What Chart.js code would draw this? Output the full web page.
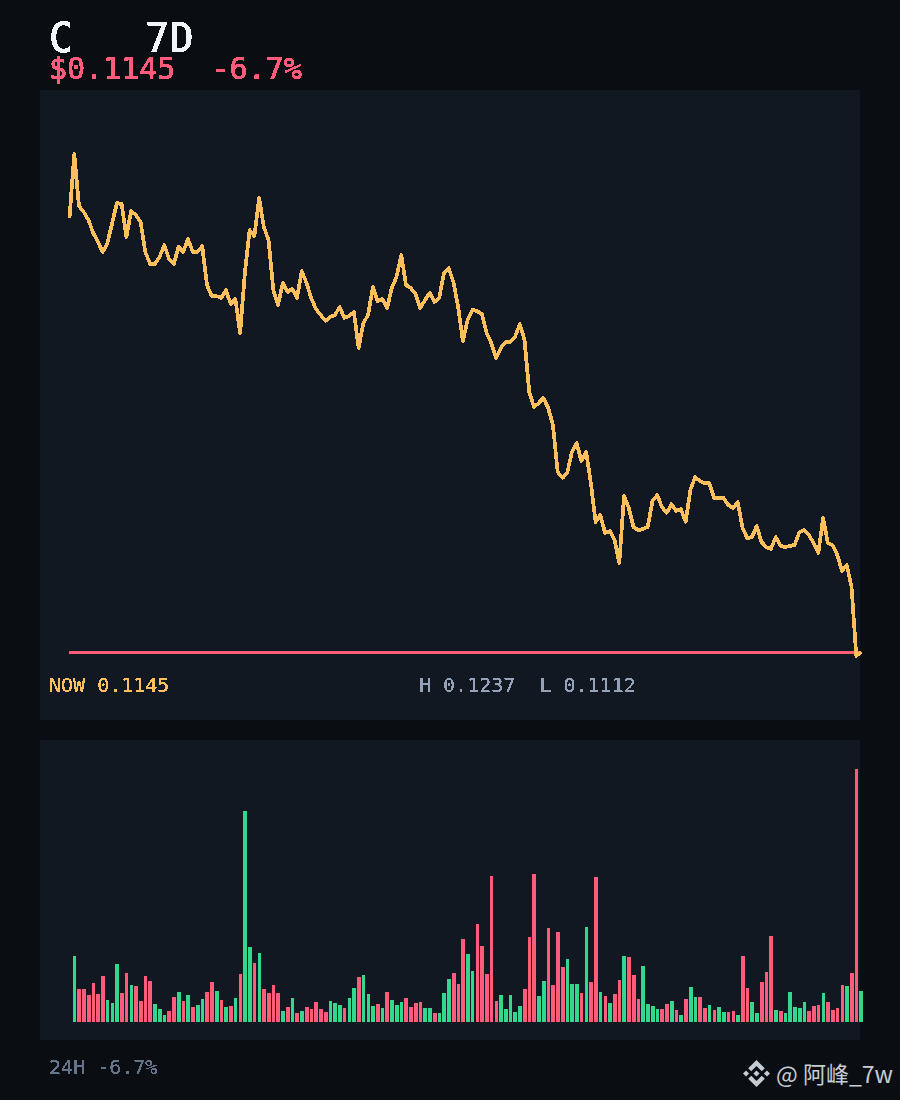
<!DOCTYPE html>
<html>
<head>
<meta charset="utf-8">
<script src="https://cdn.jsdelivr.net/npm/chart.js@4"></script>
<style>
  html, body { margin: 0; padding: 0; background: #0a0d12; }
  #page { position: relative; width: 900px; height: 1100px; overflow: hidden; background: #0a0d12; }
  .panel { position: absolute; left: 40px; width: 820px; background: #111822; }
  canvas { position: absolute; }
  #priceChart { filter: url(#crisp); }
  #volumeChart { filter: url(#crispBars); }
  .txt { position: absolute; white-space: pre; font-family: "DejaVu Sans Mono", monospace; filter: url(#crisp); }
  #title { left: 49px; top: 18px; font-size: 40px; line-height: 40px; color: #f1f5f9; -webkit-text-stroke: 0.6px #f1f5f9; }
  #sub { left: 49px; top: 54px; font-size: 30px; line-height: 30px; color: #ff5c7c; -webkit-text-stroke: 0.5px #ff5c7c; }
  #now { left: 49px; top: 675px; font-size: 20px; line-height: 20px; color: #fbbf5c; }
  #hilo { left: 419px; top: 675px; font-size: 20px; line-height: 20px; color: #94a3b8; }
  #foot { left: 49px; top: 1057px; font-size: 20px; line-height: 20px; color: #64748b; }
  #mark { position: absolute; left: 776px; top: 1056px; white-space: pre; font-family: "Noto Sans CJK SC", sans-serif; font-size: 23px; line-height: 34px; color: #c6ccd4; }
  #logo { position: absolute; left: 743px; top: 1060px; width: 27px; height: 27px; }
</style>
</head>
<body>
<div id="page">
  <svg width="0" height="0" style="position:absolute">
    <filter id="crisp" color-interpolation-filters="sRGB" x="0" y="0" width="100%" height="100%">
      <feComponentTransfer><feFuncA type="discrete" tableValues="0 1 1"/></feComponentTransfer>
    </filter>
    <filter id="crispBars" color-interpolation-filters="sRGB" x="0" y="0" width="100%" height="100%">
      <feComponentTransfer><feFuncA type="discrete" tableValues="0 1"/></feComponentTransfer>
    </filter>
  </svg>
  <div class="panel" style="top:90px;height:630px"></div>
  <div class="panel" style="top:740px;height:300px"></div>
  <canvas id="priceChart" width="820" height="630" style="left:60px;top:90px"></canvas>
  <canvas id="volumeChart" width="820" height="300" style="left:60px;top:740px"></canvas>
  <div class="txt" id="title">C   7D</div>
  <div class="txt" id="sub">$0.1145  -6.7%</div>
  <div class="txt" id="now">NOW 0.1145</div>
  <div class="txt" id="hilo">H 0.1237  L 0.1112</div>
  <div class="txt" id="foot">24H -6.7%</div>
  <svg id="logo" viewBox="0 0 126.61 126.61" fill="#c6ccd4">
    <path d="M38.73 53.2 63.31 28.62 87.9 53.21 102.2 38.91 63.31 0 24.43 38.9z"/>
    <path d="M0 63.31 14.3 49 28.6 63.31 14.3 77.61z"/>
    <path d="M38.73 73.41 63.31 98 87.9 73.4 102.2 87.7 63.31 126.61 24.43 87.72z"/>
    <path d="M98 63.31 112.3 49 126.6 63.31 112.3 77.61z"/>
    <path d="M77.82 63.3 63.31 48.8 48.81 63.3 63.31 77.79z"/>
  </svg>
  <div id="mark">@ 阿峰_7w</div>
</div>
<script>
// hourly closes over the 7 days
const prices = [
  0.122125, 0.123725, 0.122425, 0.122275, 0.122075, 0.12175, 0.121525, 0.121275, 0.1215, 0.122,
  0.1225, 0.122475, 0.12165, 0.1223, 0.1222, 0.122025, 0.121275, 0.120975, 0.120975, 0.12115,
  0.12145, 0.1211, 0.120975, 0.1214, 0.121275, 0.1216, 0.121275, 0.121275, 0.121425, 0.12045,
  0.120175, 0.120175, 0.120125, 0.120325, 0.119975, 0.1201, 0.11925, 0.12075, 0.121825, 0.121675,
  0.122625, 0.1219, 0.121575, 0.120325, 0.11995, 0.1205, 0.120275, 0.12035, 0.120125, 0.1208,
  0.1205, 0.120125, 0.11985, 0.1197, 0.11955, 0.11965, 0.1197, 0.1199, 0.119625, 0.119675,
  0.119775, 0.118875, 0.1195, 0.1197, 0.1204, 0.12005, 0.1201, 0.119875, 0.120375, 0.12065,
  0.1212, 0.12045, 0.120375, 0.120225, 0.119875, 0.120075, 0.12025, 0.120025, 0.120125, 0.12075,
  0.120875, 0.120525, 0.1199, 0.11905, 0.119575, 0.119825, 0.1198, 0.119725, 0.11925, 0.119,
  0.118625, 0.118875, 0.119025, 0.119025, 0.11915, 0.119475, 0.119075, 0.117775, 0.1174, 0.1175,
  0.117625, 0.117375, 0.11695, 0.115775, 0.115625, 0.11575, 0.116275, 0.1165, 0.11605, 0.116275,
  0.1155, 0.114525, 0.1147, 0.11425, 0.1143, 0.114075, 0.1135, 0.115175, 0.114875, 0.1144,
  0.114325, 0.11435, 0.1144, 0.11505, 0.1152, 0.1149, 0.11475, 0.114975, 0.1148, 0.11485,
  0.114525, 0.115325, 0.11565, 0.11555, 0.1155, 0.1155, 0.115125, 0.115125, 0.115125, 0.11495,
  0.114875, 0.115025, 0.114375, 0.114125, 0.11415, 0.114425, 0.114025, 0.1139, 0.11385, 0.11415,
  0.113925, 0.1139, 0.113925, 0.11395, 0.114275, 0.114325, 0.1142, 0.114, 0.11375, 0.114625,
  0.114, 0.11395, 0.1137, 0.1133, 0.11345, 0.1129, 0.111175, 0.111275
];
const refLevel = 0.1112625;

// volume per hour, 1 = green candle, 0 = red candle
const volumes = [
  66, 33, 33, 27, 39, 28, 46, 22, 19, 58, 29, 49, 37, 36, 21, 46, 41, 18, 13, 7,
  11, 25, 30, 21, 27, 15, 17, 23, 30, 40, 31, 22, 15, 16, 24, 48, 211, 75, 59, 69,
  33, 29, 37, 29, 11, 15, 24, 9, 11, 15, 13, 20, 13, 10, 21, 19, 17, 14, 24, 34,
  45, 47, 28, 16, 18, 14, 30, 22, 17, 20, 24, 15, 19, 20, 14, 14, 9, 9, 29, 43,
  49, 38, 83, 68, 51, 98, 76, 48, 146, 21, 27, 13, 27, 10, 16, 33, 85, 148, 26, 41,
  94, 37, 90, 55, 63, 38, 38, 29, 95, 40, 145, 30, 26, 19, 28, 42, 66, 65, 47, 23,
  56, 18, 16, 13, 13, 18, 21, 12, 7, 23, 35, 25, 25, 14, 17, 12, 15, 10, 10, 11,
  7, 66, 34, 20, 9, 40, 50, 86, 12, 11, 9, 30, 15, 14, 20, 11, 16, 17, 29, 20,
  12, 14, 37, 36, 49, 253, 31
];
const volumeUp = [
  1, 0, 0, 0, 0, 0, 0, 1, 1, 1, 0, 0, 1, 0, 0, 0, 0, 1, 1, 1,
  0, 0, 1, 0, 1, 0, 1, 1, 0, 0, 1, 0, 1, 0, 1, 0, 1, 1, 0, 1,
  0, 0, 0, 0, 1, 0, 1, 0, 1, 0, 0, 0, 0, 0, 1, 1, 1, 0, 1, 1,
  0, 1, 1, 1, 0, 1, 0, 1, 1, 1, 0, 0, 0, 0, 1, 1, 0, 1, 1, 1,
  0, 0, 0, 1, 1, 0, 0, 0, 0, 0, 1, 1, 1, 1, 1, 0, 0, 0, 1, 1,
  0, 0, 0, 0, 1, 1, 1, 0, 1, 0, 0, 1, 0, 1, 0, 0, 1, 0, 0, 0,
  1, 1, 1, 1, 0, 0, 1, 0, 1, 0, 1, 1, 0, 0, 1, 0, 1, 1, 0, 0,
  1, 0, 0, 1, 1, 0, 0, 0, 1, 0, 1, 1, 1, 1, 1, 0, 0, 0, 1, 0,
  0, 0, 0, 1, 0, 0, 1
];

const amber = '#fbbf5c';
const red = '#ff5c7c';
const green = '#33d88e';

Chart.defaults.animation = false;

// for price line
new Chart(document.getElementById('priceChart'), {
  type: 'line',
  data: {
    labels: prices.map((_, i) => i),
    datasets: [
      {
        data: prices,
        borderColor: amber,
        borderWidth: 3.4,
        borderJoinStyle: 'round',
        pointRadius: 0,
        tension: 0,
        clip: false,
        order: 1
      },
      {
        data: prices.map(() => refLevel),
        borderColor: red,
        borderWidth: 3,
        pointRadius: 0,
        clip: false,
        order: 2
      }
    ]
  },
  options: {
    responsive: false,
    layout: { padding: { left: 9.5, right: 19, top: 10, bottom: 55 } },
    plugins: { legend: { display: false }, tooltip: { enabled: false } },
    scales: {
      x: { display: false },
      y: { display: false, min: 0.11095, max: 0.125075 }
    }
  }
});

// for volume bars
new Chart(document.getElementById('volumeChart'), {
  type: 'bar',
  data: {
    labels: volumes.map((_, i) => i),
    datasets: [{
      data: volumes,
      backgroundColor: volumeUp.map(up => up ? green : red),
      barThickness: 3
    }]
  },
  options: {
    responsive: false,
    layout: { padding: { left: 12.1, right: 16.3, top: 29, bottom: 18 } },
    plugins: { legend: { display: false }, tooltip: { enabled: false } },
    scales: {
      x: { display: false },
      y: { display: false, min: 0, max: 253 }
    }
  }
});
</script>
</body>
</html>
